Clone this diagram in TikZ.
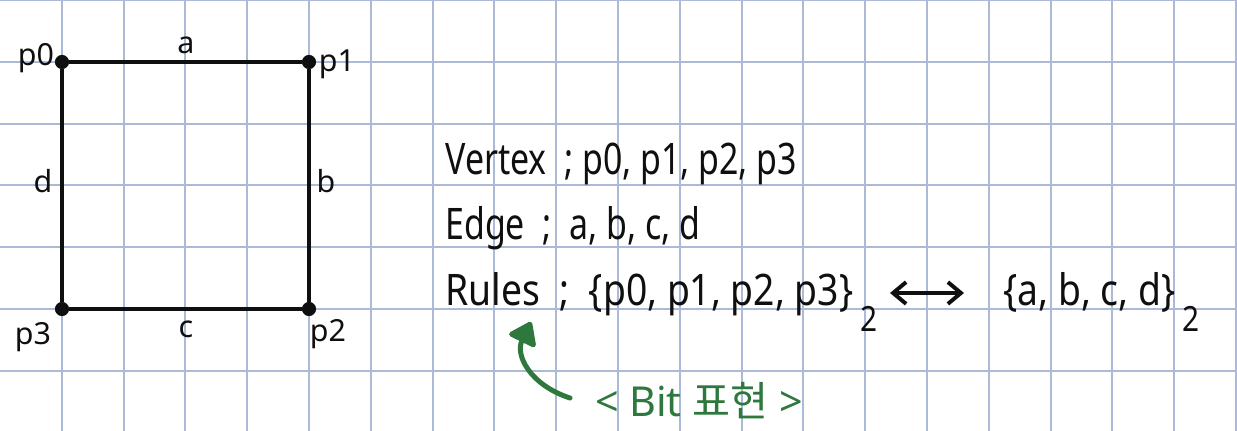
\documentclass[tikz,border=0pt]{standalone}
\usepackage{fontspec}
\setmainfont{Noto Sans}
\newfontfamily\kr{Noto Sans CJK KR}
\usetikzlibrary{arrows.meta}
\definecolor{gridc}{RGB}{170,186,216}
\definecolor{ink}{RGB}{15,15,15}
\definecolor{pen}{RGB}{46,120,62}
\newcommand{\subtwo}{\hspace{4pt}\raisebox{-12pt}{\fontsize{16}{16}\selectfont 2}}
\tikzset{
  gridline/.style={draw=gridc, line width=1pt},
  edgeline/.style={draw=ink, line width=1.5pt},
  vdot/.style={circle, fill=ink, inner sep=0pt, minimum size=6.5pt},
  lbl/.style={text=ink, font=\fontsize{14}{16}\selectfont, inner sep=0pt},
  rtext/.style={text=ink, font=\fontsize{20}{24}\selectfont, inner sep=0pt, anchor=base west, xscale=0.78},
  gtext/.style={text=pen, font=\fontsize{19}{22}\selectfont, inner sep=0pt},
}
\begin{document}
\begin{tikzpicture}[x=0.016168cm, y=-0.016168cm]
\useasboundingbox (0,0) rectangle (1237,431);
% grid
\foreach \i in {1,...,20} \draw[gridline] (61.8*\i,0) -- (61.8*\i,431);
\foreach \j in {0,...,6} \draw[gridline] (0,61.8*\j) -- (1237,61.8*\j);
% square graph
\node[vdot] (v0) at (62,62) {};
\node[vdot] (v1) at (309,62) {};
\node[vdot] (v2) at (309,309) {};
\node[vdot] (v3) at (62,309) {};
\draw[edgeline] (v0) -- (v1);
\draw[edgeline] (v1) -- (v2);
\draw[edgeline] (v2) -- (v3);
\draw[edgeline] (v3) -- (v0);
\node[lbl] (lp0) at (36,58) {p0};
\node[lbl] (lp1) at (337,64) {p1};
\node[lbl] (lp2) at (328,334) {p2};
\node[lbl] (lp3) at (33,337) {p3};
\node[lbl] (la) at (186,45) {a};
\node[lbl] (lb) at (326,181) {b};
\node[lbl] (lc) at (186,329) {c};
\node[lbl] (ld) at (43,181) {d};
% text
\node[rtext] (vertex) at (445,175) {Vertex\ \ ; p0, p1, p2, p3};
\node[rtext] (edge) at (445,240) {Edge\ \ ;\ \ a,\ b,\ c,\ d};
\node[rtext, xscale=1.1] (rules) at (445,305) {Rules\ \ ;\ \ \{p0,\ p1,\ p2,\ p3\}\subtwo};
\node[rtext, xscale=1.1] (rset) at (1003,305) {\{a,\ b,\ c,\ d\}\subtwo};
\coordinate (al) at (890,293);
\coordinate (ar) at (964,293);
\draw[edgeline, line width=1.8pt, {Straight Barb[length=6pt,width=10pt]}-{Straight Barb[length=6pt,width=10pt]}] (al) -- (ar);
% green note
\node[gtext] (bit) at (699,401) {< Bit {\kr 표현} >};
\coordinate (gs) at (570,398);
\coordinate (ge) at (531,322);
\draw[draw=pen, line width=2.3pt, line cap=round, -{Triangle[length=11pt,width=15pt,round]}] (gs) .. controls (530,385) and (515,355) .. (ge);
\end{tikzpicture}
\end{document}
